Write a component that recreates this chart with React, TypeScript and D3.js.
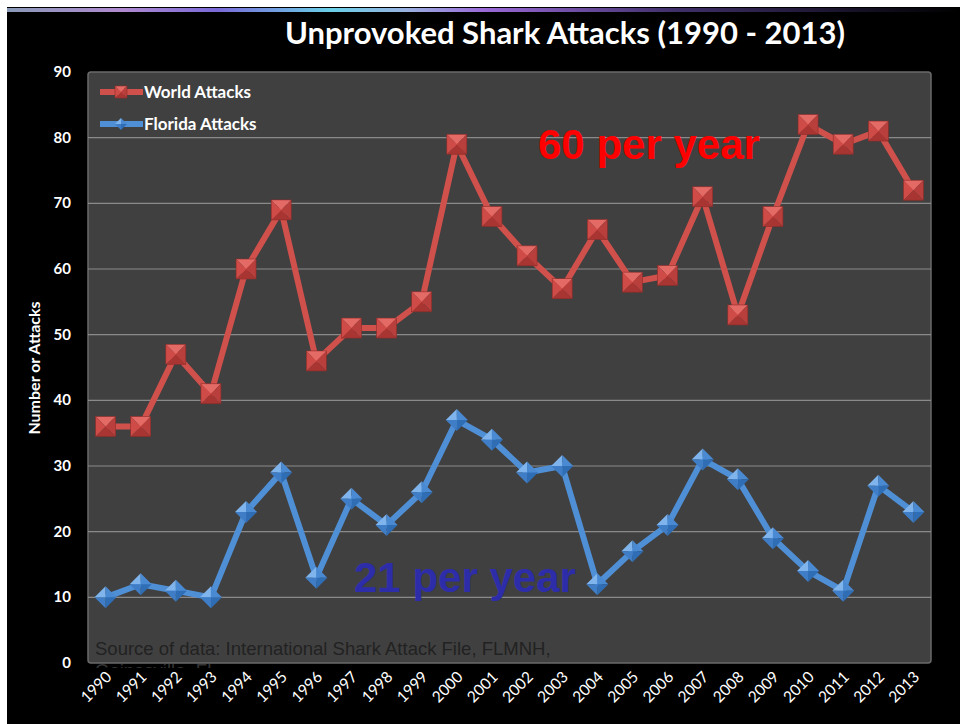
import * as d3 from "d3";
import React from "react";

const years = [
  "1990", "1991", "1992", "1993", "1994", "1995", "1996", "1997", "1998", "1999", "2000", "2001",
  "2002", "2003", "2004", "2005", "2006", "2007", "2008", "2009", "2010", "2011", "2012", "2013",
];
const worldAttacks = [36, 36, 47, 41, 60, 69, 46, 51, 51, 55, 79, 68, 62, 57, 66, 58, 59, 71, 53, 68, 82, 79, 81, 72];
const floridaAttacks = [10, 12, 11, 10, 23, 29, 13, 25, 21, 26, 37, 34, 29, 30, 12, 17, 21, 31, 28, 19, 14, 11, 27, 23];
const yTicks = [0, 10, 20, 30, 40, 50, 60, 70, 80, 90];

const width = 960;
const height = 724;
const plot = { left: 88, right: 931, top: 72, bottom: 663 };

const RED = "#d0504c";
const BLUE = "#4f8fd6";
const LABEL_FONT = "Lato, 'Open Sans', sans-serif";

function squareMarker(g: d3.Selection<SVGGElement, unknown, null, undefined>, cx: number, cy: number, s: number) {
  const h = s / 2;
  const tl: [number, number] = [cx - h, cy - h];
  const tr: [number, number] = [cx + h, cy - h];
  const br: [number, number] = [cx + h, cy + h];
  const bl: [number, number] = [cx - h, cy + h];
  const c: [number, number] = [cx, cy];
  const faces: Array<[[number, number][], string]> = [
    [[tl, tr, c], "#e46a66"],
    [[tr, br, c], "#b83f3c"],
    [[br, bl, c], "#a83532"],
    [[bl, tl, c], "#cf4b47"],
  ];
  faces.forEach(([pts, fill]) => {
    g.append("polygon").attr("points", pts.map((p) => p.join(",")).join(" ")).attr("fill", fill);
  });
  g.append("rect")
    .attr("x", cx - h)
    .attr("y", cy - h)
    .attr("width", s)
    .attr("height", s)
    .attr("fill", "none")
    .attr("stroke", "#8e2c29")
    .attr("stroke-width", 0.6);
}

function diamondMarker(g: d3.Selection<SVGGElement, unknown, null, undefined>, cx: number, cy: number, s: number) {
  const h = s / 2;
  const t: [number, number] = [cx, cy - h];
  const r: [number, number] = [cx + h, cy];
  const b: [number, number] = [cx, cy + h];
  const l: [number, number] = [cx - h, cy];
  const c: [number, number] = [cx, cy];
  const faces: Array<[[number, number][], string]> = [
    [[l, t, c], "#7fb4ec"],
    [[t, r, c], "#4a8ad2"],
    [[r, b, c], "#2f6db5"],
    [[b, l, c], "#3f7ec6"],
  ];
  faces.forEach(([pts, fill]) => {
    g.append("polygon").attr("points", pts.map((p) => p.join(",")).join(" ")).attr("fill", fill);
  });
}

export default function App() {
  const svgRef = React.useRef<SVGSVGElement | null>(null);

  React.useEffect(() => {
    const svg = d3.select(svgRef.current);
    svg.selectAll("*").remove();

    const defs = svg.append("defs");
    const grad = defs.append("linearGradient").attr("id", "topbar").attr("x1", "0").attr("x2", "1");
    [
      [0, "#8a9ab8"],
      [0.12, "#b08ad0"],
      [0.22, "#7a6ad8"],
      [0.34, "#6ad0e8"],
      [0.42, "#9ab0e0"],
      [0.5, "#9a6ad8"],
      [0.7, "#40306a"],
      [1, "#000000"],
    ].forEach(([o, c]) => grad.append("stop").attr("offset", o as number).attr("stop-color", c as string));
    defs
      .append("clipPath")
      .attr("id", "srcclip")
      .append("rect")
      .attr("x", 0)
      .attr("y", 0)
      .attr("width", width)
      .attr("height", plot.bottom + 5);

    // page background
    svg.append("rect").attr("width", width).attr("height", height).attr("fill", "#ffffff");
    svg.append("rect").attr("x", 7).attr("y", 7).attr("width", width - 7).attr("height", height - 7).attr("fill", "#000");
    svg.append("rect").attr("x", 7).attr("y", 8).attr("width", width - 7).attr("height", 4).attr("fill", "url(#topbar)");

    // title
    svg
      .append("text")
      .attr("x", 565)
      .attr("y", 44)
      .attr("text-anchor", "middle")
      .attr("fill", "#fff")
      .attr("font-family", LABEL_FONT)
      .attr("font-weight", "bold")
      .attr("font-size", 31)
      .text("Unprovoked Shark Attacks (1990 - 2013)");

    const x = d3.scaleBand().domain(years).range([plot.left, plot.right]);
    const y = d3.scaleLinear().domain([0, 90]).range([plot.bottom, plot.top]);
    const cx = (i: number) => (x(years[i]) ?? 0) + x.bandwidth() / 2;

    // plot area
    svg
      .append("rect")
      .attr("x", plot.left)
      .attr("y", plot.top)
      .attr("width", plot.right - plot.left)
      .attr("height", plot.bottom - plot.top)
      .attr("rx", 3)
      .attr("fill", "#404040")
      .attr("stroke", "#6a6a6a")
      .attr("stroke-width", 1.5);

    // gridlines
    svg
      .append("g")
      .selectAll("line")
      .data(yTicks.filter((t) => t > 0 && t < 90))
      .enter()
      .append("line")
      .attr("x1", plot.left)
      .attr("x2", plot.right)
      .attr("y1", (d) => y(d))
      .attr("y2", (d) => y(d))
      .attr("stroke", "#8a8a8a")
      .attr("stroke-width", 1.2);

    // y axis labels
    svg
      .append("g")
      .selectAll("text")
      .data(yTicks)
      .enter()
      .append("text")
      .attr("x", 71)
      .attr("y", (d) => y(d) + 5)
      .attr("text-anchor", "end")
      .attr("fill", "#fff")
      .attr("font-family", LABEL_FONT)
      .attr("font-weight", "bold")
      .attr("font-size", 15)
      .text((d) => d);

    svg
      .append("text")
      .attr("transform", "translate(40,368) rotate(-90)")
      .attr("text-anchor", "middle")
      .attr("fill", "#fff")
      .attr("font-family", LABEL_FONT)
      .attr("font-weight", "bold")
      .attr("font-size", 16)
      .text("Number or Attacks");

    // x axis labels
    svg
      .append("g")
      .selectAll("text")
      .data(years)
      .enter()
      .append("text")
      .attr("transform", (d) => `translate(${(x(d) ?? 0) + x.bandwidth() / 2 + 7},${plot.bottom + 15}) rotate(-45)`)
      .attr("text-anchor", "end")
      .attr("fill", "#fff")
      .attr("font-family", LABEL_FONT)
      .attr("font-size", 15.5)
      .text((d) => d);

    // source note
    const src = svg.append("g").attr("clip-path", "url(#srcclip)");
    src
      .append("text")
      .attr("x", 95)
      .attr("y", 655)
      .attr("fill", "#222")
      .attr("font-family", "'Liberation Sans', Arial, sans-serif")
      .attr("font-size", 18.5)
      .text("Source of data: International Shark Attack File, FLMNH,");
    src
      .append("text")
      .attr("x", 95)
      .attr("y", 677)
      .attr("fill", "#333")
      .attr("font-family", "'Liberation Sans', Arial, sans-serif")
      .attr("font-size", 18.5)
      .text("Gainesville, FL");

    // annotations
    svg
      .append("text")
      .attr("x", 538)
      .attr("y", 159)
      .attr("fill", "#ff0000")
      .attr("font-family", "'Liberation Sans', Arial, sans-serif")
      .attr("font-weight", "bold")
      .attr("font-size", 42)
      .text("60 per year");
    svg
      .append("text")
      .attr("x", 354)
      .attr("y", 592)
      .attr("fill", "#2d2daa")
      .attr("font-family", "'Liberation Sans', Arial, sans-serif")
      .attr("font-weight", "bold")
      .attr("font-size", 42)
      .text("21 per year");

    const line = d3
      .line<number>()
      .x((_, i) => cx(i))
      .y((d) => y(d));

    // world series
    svg
      .append("path")
      .datum(worldAttacks)
      .attr("d", line)
      .attr("fill", "none")
      .attr("stroke", RED)
      .attr("stroke-width", 6)
      .attr("stroke-linejoin", "round");
    const wm = svg.append("g");
    worldAttacks.forEach((d, i) => squareMarker(wm, cx(i), y(d), 20));

    // florida series
    svg
      .append("path")
      .datum(floridaAttacks)
      .attr("d", line)
      .attr("fill", "none")
      .attr("stroke", BLUE)
      .attr("stroke-width", 6)
      .attr("stroke-linejoin", "round");
    const fm = svg.append("g");
    floridaAttacks.forEach((d, i) => diamondMarker(fm, cx(i), y(d), 22));

    // legend
    const legend = svg.append("g");
    const items: Array<[string, string, boolean]> = [
      ["World Attacks", RED, true],
      ["Florida Attacks", BLUE, false],
    ];
    items.forEach(([label, color, square], i) => {
      const ly = 92 + i * 32;
      legend
        .append("line")
        .attr("x1", 100)
        .attr("x2", 143)
        .attr("y1", ly)
        .attr("y2", ly)
        .attr("stroke", color)
        .attr("stroke-width", 6);
      if (square) squareMarker(legend, 121, ly, 12);
      else diamondMarker(legend, 121, ly, 12);
      legend
        .append("text")
        .attr("x", 144)
        .attr("y", ly + 6)
        .attr("fill", "#fff")
        .attr("font-family", LABEL_FONT)
        .attr("font-weight", "bold")
        .attr("font-size", 17)
        .text(label);
    });
  }, []);

  return (
    <div style={{ position: "absolute", left: 0, top: 0 }}>
      <svg ref={svgRef} width={width} height={height} style={{ display: "block" }} />
    </div>
  );
}
